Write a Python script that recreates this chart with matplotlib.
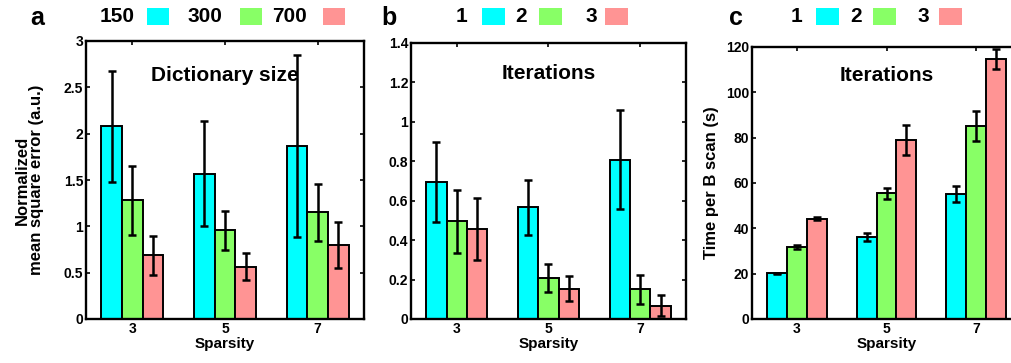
import numpy as np
import matplotlib
matplotlib.use("Agg")
import matplotlib.pyplot as plt
from matplotlib.patches import Rectangle

plt.rcParams['font.family'] = ['Liberation Sans', 'DejaVu Sans']
plt.rcParams['font.weight'] = 'bold'

sparsity = ['3', '5', '7']

# Panel a: dictionary size
dict_labels = ['150', '300', '700']
a_means = [[2.08, 1.57, 1.87],
           [1.28, 0.96, 1.15],
           [0.69, 0.565, 0.80]]
a_errs = [[0.60, 0.57, 0.98],
          [0.37, 0.21, 0.31],
          [0.21, 0.145, 0.25]]

# Panel b: iterations (error)
iter_labels = ['1', '2', '3']
b_means = [[0.695, 0.566, 0.808],
           [0.495, 0.207, 0.151],
           [0.456, 0.153, 0.068]]
b_errs = [[0.205, 0.14, 0.25],
          [0.16, 0.07, 0.073],
          [0.157, 0.063, 0.055]]

# Panel c: iterations (time)
c_means = [[20.1, 36.0, 55.0],
           [31.9, 55.4, 85.1],
           [44.3, 79.0, 114.7]]
c_errs = [[0.3, 1.8, 3.6],
          [0.8, 2.3, 6.5],
          [0.7, 6.7, 4.4]]

colors = ['#00ffff', '#88ff66', '#ff9494']

W, H = 1012, 363
fig = plt.figure(figsize=(W / 100, H / 100), dpi=100)


def px_axes(l, r, t, b):
    return fig.add_axes([l / W, 1 - b / H, (r - l) / W, (b - t) / H])


def draw_panel(ax, means, errs, ylim, yticks, yticklabels, title, title_y):
    n = len(means)
    x = np.arange(1, len(sparsity) + 1)
    gw = min(0.8, n / (n + 1.5))
    bw = gw / n
    for i in range(n):
        xi = x - gw / 2 + bw * (i + 0.5)
        ax.bar(xi, means[i], width=bw, color=colors[i], edgecolor='black',
               linewidth=1.4, zorder=2)
        ax.errorbar(xi, means[i], yerr=errs[i], fmt='none', ecolor='black',
                    elinewidth=1.8, capsize=2.8, capthick=1.8, zorder=3)
    ax.set_xlim(0.5, len(sparsity) + 0.5)
    ax.set_ylim(*ylim)
    ax.set_xticks(x)
    ax.set_xticklabels(sparsity, fontsize=10, fontweight='bold')
    ax.set_yticks(yticks)
    ax.set_yticklabels(yticklabels, fontsize=10, fontweight='bold')
    ax.tick_params(direction='in', top=True, right=True, length=3, width=1.2, pad=2)
    for s in ax.spines.values():
        s.set_linewidth(1.7)
    ax.set_xlabel('Sparsity', fontsize=11, fontweight='bold', labelpad=1)
    ax.text(0.5, title_y, title, transform=ax.transAxes, ha='center', va='center',
            fontsize=15, fontweight='bold')


axa = px_axes(86, 364, 41, 319)
draw_panel(axa, a_means, a_errs, (0, 3), [0, 0.5, 1, 1.5, 2, 2.5, 3],
           ['0', '0.5', '1', '1.5', '2', '2.5', '3'], 'Dictionary size', 0.875)
axa.set_ylabel('Normalized\nmean square error (a.u.)', fontsize=12,
               fontweight='bold', labelpad=14, linespacing=0.95)

axb = px_axes(411, 686, 43, 319)
draw_panel(axb, b_means, b_errs, (0, 1.4), [0, 0.2, 0.4, 0.6, 0.8, 1.0, 1.2, 1.4],
           ['0', '0.2', '0.4', '0.6', '0.8', '1', '1.2', '1.4'], 'Iterations', 0.89)

axc = px_axes(752, 1021, 47, 319)
draw_panel(axc, c_means, c_errs, (0, 120), [0, 20, 40, 60, 80, 100, 120],
           ['0', '20', '40', '60', '80', '100', '120'], 'Iterations', 0.895)
axc.set_ylabel('Time per B scan (s)', fontsize=12, fontweight='bold', labelpad=5)


def legend_row(labels, text_x, patch_x, patch_w, fs):
    for lab, tx, px, col in zip(labels, text_x, patch_x, colors):
        fig.text(tx / W, 1 - 16 / H, lab, ha='left', va='center',
                 fontsize=fs, fontweight='bold')
        fig.patches.append(Rectangle((px / W, 1 - 25 / H), patch_w / W, 17 / H,
                                     transform=fig.transFigure, facecolor=col,
                                     edgecolor='none'))


legend_row(dict_labels, [100, 188, 272], [147, 240, 323], 22, 15)
legend_row(iter_labels, [456, 515, 586], [482, 539, 605], 23, 15)
legend_row(iter_labels, [791, 850, 918], [816, 873, 939], 23, 15)

for lab, x in zip(['a', 'b', 'c'], [30, 381, 729]):
    fig.text(x / W, 1 - 18 / H, lab, ha='left', va='center', fontsize=18,
             fontweight='bold')

fig.savefig('out.png', dpi=100)
